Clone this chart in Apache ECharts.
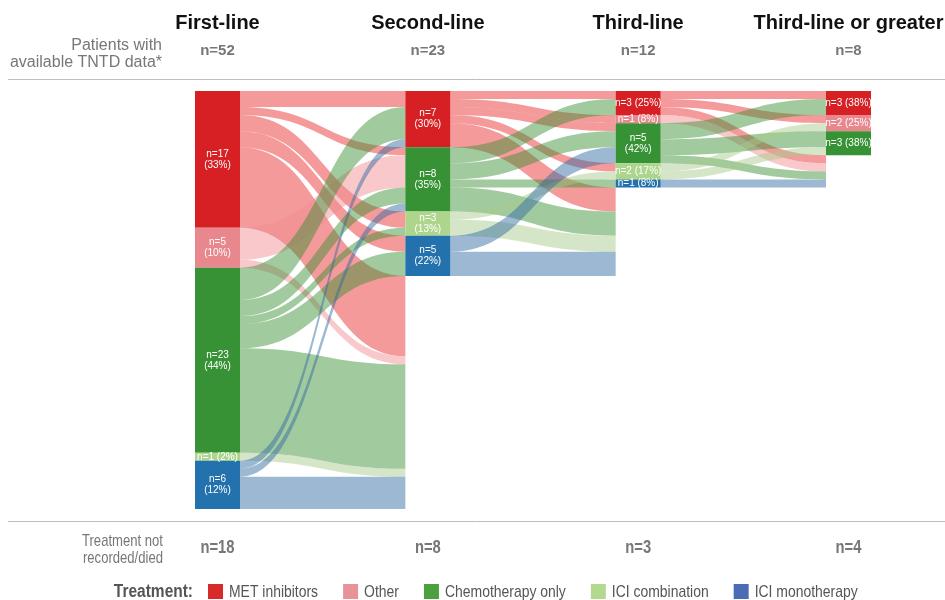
<!DOCTYPE html>
<html><head><meta charset="utf-8">
<script src="https://cdn.jsdelivr.net/npm/echarts@6/dist/echarts.min.js"></script>
<style>html,body{margin:0;padding:0;background:#fff}#c{width:945px;height:600px}</style>
</head><body><div id="c"></div>
<script>
// ---------- data ----------
const treatments = ['MET inhibitors', 'Other', 'Chemotherapy only', 'ICI combination', 'ICI monotherapy'];
const nodeColors = ['#d62024', '#e8878d', '#379235', '#add58c', '#2472ad'];
const linkColors = ['#e8282a', '#f08a90', '#3a8e34', '#a6ca8a', '#2e689f'];
const legendColors = ['#d92a2a', '#e8939a', '#4ba13e', '#b2da8e', '#4a6db5'];
const columnTitles = ['First-line', 'Second-line', 'Third-line', 'Third-line or greater'];
const columnTotals = ['n=52', 'n=23', 'n=12', 'n=8'];
const notRecorded = ['n=18', 'n=8', 'n=3', 'n=4'];
const totalsNum = [52, 23, 12, 8];
// patients per treatment in each column (0 = no node)
const col1Counts = [17, 5, 23, 1, 6];
const col2Counts = [7, 0, 8, 3, 5];
const col3Counts = [3, 1, 5, 2, 1];
const col4Counts = [3, 2, 3, 0, 0];
// transitions [from treatment, to treatment or 'drop', patients]
const flows12 = [[0,0,2],[0,2,1],[0,3,2],[0,4,2],[0,'drop',10],[1,2,4],[1,'drop',1],
  [2,0,4],[2,2,2],[2,3,1],[2,4,3],[2,'drop',13],[3,'drop',1],[4,0,1],[4,2,1],[4,'drop',4]];
const flows23 = [[0,0,1],[0,1,1],[0,2,1],[0,3,1],[0,'drop',3],[2,0,2],[2,2,2],[2,4,1],[2,'drop',3],
  [3,3,1],[3,'drop',2],[4,2,2],[4,'drop',3]];
const flows34 = [[0,0,1],[0,1,1],[0,'drop',1],[1,'drop',1],[2,0,2],[2,2,2],[2,'drop',1],
  [3,1,1],[3,2,1],[4,'drop',1]];

// ---------- layout constants ----------
const W = 945, H = 600;
const L = 195, R = 74, T = 91, B = 91, NW = 45;
const colStep = (W - L - R - NW) / 3;
const colCenter = i => L + NW / 2 + i * colStep;
const twoLineMin = [2, 2, 4, 4];
const FONT = '"Liberation Sans", Arial, Helvetica, sans-serif';
const NARROW_SCALE = 0.82;

const counts = [col1Counts, col2Counts, col3Counts, col4Counts];
const flows = [flows12, flows23, flows34];

const nodes = [];
counts.forEach((arr, c) => {
  arr.forEach((v, t) => {
    if (!v) return;
    const pct = Math.round(v / totalsNum[c] * 100);
    const txt = v >= twoLineMin[c] ? `n=${v}\n(${pct}%)` : `n=${v} (${pct}%)`;
    nodes.push({
      name: `c${c}t${t}`, depth: c,
      itemStyle: { color: nodeColors[t], borderWidth: 0 },
      label: { show: true, formatter: txt }
    });
  });
  if (c > 0) {
    nodes.push({
      name: `c${c}drop`, depth: c,
      itemStyle: { color: 'rgba(0,0,0,0)', borderWidth: 0 },
      label: { show: false }
    });
  }
});
const links = [];
flows.forEach((fl, c) => {
  fl.forEach(([s, t, v]) => {
    links.push({
      source: `c${c}t${s}`,
      target: t === 'drop' ? `c${c + 1}drop` : `c${c + 1}t${t}`,
      value: v,
      lineStyle: { color: linkColors[s], opacity: 0.47 }
    });
  });
});

// ---------- graphics ----------
const graphic = [];
const txt = (x, y, text, font, fill, align, extra, scaleX) => ({
  type: 'text', x, y, silent: true, scaleX: scaleX || 1,
  style: Object.assign({ text, font, fill, align, verticalAlign: 'middle',
    textAlign: align, textVerticalAlign: 'middle' }, extra || {})
});
columnTitles.forEach((t, i) => {
  graphic.push(txt(colCenter(i), 23, t, `bold 20px ${FONT}`, '#111', 'center'));
  graphic.push(txt(colCenter(i), 51, columnTotals[i], `bold 15px ${FONT}`, '#777', 'center'));
  graphic.push(txt(colCenter(i), 548, notRecorded[i], `bold 18px ${FONT}`, '#777', 'center', null, NARROW_SCALE));
});
graphic.push(txt(162, 54, 'Patients with\navailable TNTD data*', `16px ${FONT}`, '#777', 'right', { lineHeight: 17 }));
graphic.push(txt(163, 550, 'Treatment not\nrecorded/died', `17px ${FONT}`, '#777', 'right', { lineHeight: 17 }, 0.77));
[79, 521].forEach(y => graphic.push({
  type: 'line', silent: true, shape: { x1: 8, y1: y + 0.5, x2: W, y2: y + 0.5 },
  style: { stroke: '#bdbdbd', lineWidth: 1 }
}));
// legend
const ctx = document.createElement('canvas').getContext('2d');
const legFont = `17px ${FONT}`;
ctx.font = legFont;
graphic.push(txt(193, 592, 'Treatment:', `bold 18px ${FONT}`, '#555', 'right', null, 0.86));
let lx = 208;
treatments.forEach((t, i) => {
  graphic.push({ type: 'rect', silent: true, shape: { x: lx, y: 584, width: 15, height: 15 },
    style: { fill: legendColors[i] } });
  graphic.push(txt(lx + 21, 592, t, legFont, '#555', 'left', null, NARROW_SCALE));
  lx += 21 + ctx.measureText(t).width * NARROW_SCALE + 25;
});

const chart = echarts.init(document.getElementById('c'), null, { renderer: 'canvas' });
chart.setOption({
  animation: false,
  graphic,
  series: [{
    type: 'sankey',
    left: L, right: R, top: T, bottom: B,
    nodeWidth: NW, nodeGap: 0, layoutIterations: 0, nodeAlign: 'left',
    draggable: false, silent: true,
    emphasis: { disabled: true },
    label: { show: true, position: 'inside', color: '#fff', fontSize: 10, lineHeight: 11,
      fontFamily: FONT, textBorderWidth: 0 },
    lineStyle: { curveness: 0.5 },
    data: nodes,
    links
  }]
});
</script></body></html>
